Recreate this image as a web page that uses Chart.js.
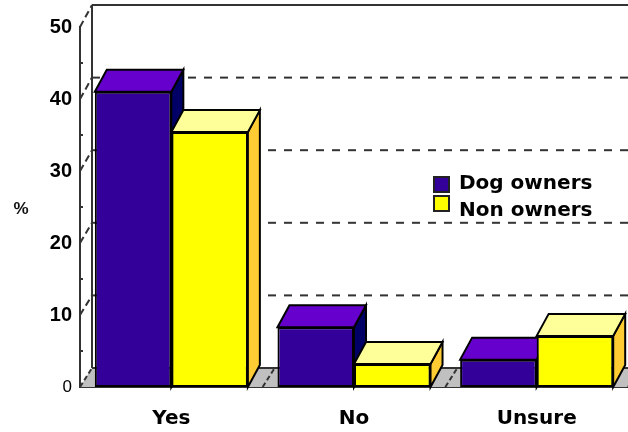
<!DOCTYPE html>
<html>
<head>
<meta charset="utf-8">
<title>Dog owners</title>
<script src="https://cdn.jsdelivr.net/npm/chart.js@4"></script>
<style>
    html, body { margin: 0; padding: 0; background: #fff; }
    canvas { display: block; }
</style>
</head>
<body>
<canvas id="ownersChart" width="628" height="432"></canvas>
<script>
/* -------- Data -------- */
const categories = ['Yes', 'No', 'Unsure'];
const dogOwners = [41, 8.3, 3.8];
const nonOwners = [35.4, 3.2, 7.1];
const yTicks = [0, 10, 20, 30, 40, 50];
const minorTicks = [5, 15, 25, 35, 45];
const yLabel = '%';

/* -------- Colours -------- */
const DOG = { front: '#330099', top: '#6600cc', side: '#000066' };
const NON = { front: '#ffff00', top: '#ffff99', side: '#ffcc33' };
const LINE = '#333333';

/* depth of the fake 3D box */
const BAR_DX = 12, BAR_DY = 22, WALL_DX = 12;
const wallY = (scale, v) => scale.getPixelForValue(v) - 19 - 0.06 * v;

function poly(ctx, pts, fill) {
    ctx.beginPath();
    pts.forEach((p, i) => i ? ctx.lineTo(p[0], p[1]) : ctx.moveTo(p[0], p[1]));
    ctx.closePath();
    ctx.fillStyle = fill;
    ctx.fill();
    ctx.strokeStyle = '#000';
    ctx.lineWidth = 2;
    ctx.stroke();
}

function segment(ctx, x1, y1, x2, y2, dash) {
    ctx.setLineDash(dash || []);
    ctx.beginPath();
    ctx.moveTo(x1, y1);
    ctx.lineTo(x2, y2);
    ctx.stroke();
    ctx.setLineDash([]);
}

/* -------- Back wall, floor and bar depth -------- */
const boxPlugin = {
    id: 'box',
    beforeDatasetsDraw(chart) {
        const { ctx, scales: { x, y }, chartArea: area } = chart;
        const wallLeft = area.left + WALL_DX;
        ctx.save();
        ctx.strokeStyle = LINE;
        ctx.lineWidth = 2;

        // floor
        ctx.fillStyle = '#c0c0c0';
        ctx.beginPath();
        ctx.moveTo(area.left, area.bottom);
        ctx.lineTo(wallLeft, wallY(y, 0));
        ctx.lineTo(area.right, wallY(y, 0));
        ctx.lineTo(area.right, area.bottom);
        ctx.closePath();
        ctx.fill();
        segment(ctx, wallLeft, wallY(y, 0), area.right, wallY(y, 0));
        for (let i = 0; i <= categories.length; i++) {
            const fx = area.left + i * (area.right - area.left) / categories.length;
            segment(ctx, fx, area.bottom, fx + WALL_DX, wallY(y, 0), [5, 3]);
        }

        // wall
        segment(ctx, wallLeft, wallY(y, 50), wallLeft, wallY(y, 0));
        segment(ctx, wallLeft, wallY(y, 50), area.right, wallY(y, 50));
        yTicks.forEach(v => {
            if (v > 0 && v < 50) segment(ctx, wallLeft, wallY(y, v), area.right, wallY(y, v), [8, 8]);
            if (v > 0) segment(ctx, area.left, y.getPixelForValue(v), wallLeft, wallY(y, v), [7, 4]);
        });
        minorTicks.forEach(v => {
            segment(ctx, area.left, y.getPixelForValue(v), area.left + 3, y.getPixelForValue(v));
        });

        // bar sides and tops
        const looks = [DOG, NON];
        for (let c = 0; c < categories.length; c++) {
            looks.forEach((look, d) => {
                const bar = chart.getDatasetMeta(d).data[c];
                const l = bar.x - bar.width / 2, r = bar.x + bar.width / 2;
                poly(ctx, [[r, bar.y], [r + BAR_DX, bar.y - BAR_DY], [r + BAR_DX, bar.base - BAR_DY], [r, bar.base]], look.side);
                poly(ctx, [[l, bar.y], [l + BAR_DX, bar.y - BAR_DY], [r + BAR_DX, bar.y - BAR_DY], [r, bar.y]], look.top);
            });
        }
        ctx.restore();
    },
    afterDraw(chart) {
        const { ctx } = chart;
        ctx.save();

        // y axis label
        ctx.fillStyle = '#111';
        ctx.font = 'bold 17px "Liberation Sans"';
        ctx.textAlign = 'center';
        ctx.textBaseline = 'middle';
        ctx.fillText(yLabel, 21, 209);

        // legend
        const rows = [184, 211];
        const boxTops = [177, 196];
        ctx.font = 'bold 20px "DejaVu Sans"';
        ctx.textAlign = 'left';
        chart.data.datasets.forEach((ds, i) => {
            ctx.fillStyle = ds.backgroundColor;
            ctx.strokeStyle = '#222';
            ctx.lineWidth = 2;
            ctx.fillRect(434, boxTops[i], 15, 15);
            ctx.strokeRect(434, boxTops[i], 15, 15);
            ctx.fillStyle = '#000';
            ctx.fillText(ds.label, 459, rows[i]);
        });
        ctx.restore();
    }
};

/* -------- Chart -------- */
new Chart(document.getElementById('ownersChart'), {
    type: 'bar',
    data: {
        labels: categories,
        datasets: [
            { label: 'Dog owners', data: dogOwners, backgroundColor: DOG.front },
            { label: 'Non owners', data: nonOwners, backgroundColor: NON.front }
        ]
    },
    options: {
        responsive: false,
        animation: false,
        layout: { padding: { top: 27, right: 0, bottom: 0, left: 0 } },
        datasets: {
            bar: {
                categoryPercentage: 0.838,
                barPercentage: 1,
                borderColor: '#000',
                borderWidth: 2,
                borderSkipped: false
            }
        },
        scales: {
            x: {
                grid: { display: false },
                border: { display: true, color: LINE, width: 2 },
                ticks: {
                    padding: 12,
                    color: '#000',
                    maxRotation: 0,
                    font: { family: '"DejaVu Sans"', size: 20, weight: 'bold' }
                },
                afterFit(scale) { scale.height = 45; }
            },
            y: {
                min: 0,
                max: 50,
                grid: { display: false },
                border: { display: true, color: LINE, width: 2 },
                afterBuildTicks(scale) { scale.ticks = yTicks.map(value => ({ value })); },
                ticks: {
                    padding: 0,
                    color: '#000',
                    font: ctx => ctx.tick && ctx.tick.value === 0
                        ? { family: '"Liberation Sans"', size: 17, weight: 'normal' }
                        : { family: '"Liberation Sans"', size: 20, weight: 'bold' }
                },
                afterFit(scale) { scale.width = 80; }
            }
        },
        plugins: {
            legend: { display: false },
            tooltip: { enabled: false }
        }
    },
    plugins: [boxPlugin]
});
</script>
</body>
</html>
